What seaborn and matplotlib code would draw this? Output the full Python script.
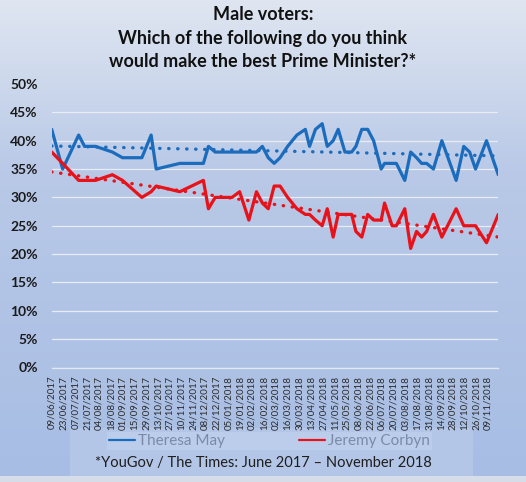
import numpy as np
import pandas as pd
import matplotlib
matplotlib.use("Agg")
import matplotlib.pyplot as plt
import matplotlib.dates as mdates
from matplotlib.colors import LinearSegmentedColormap
from matplotlib.lines import Line2D
from matplotlib.patches import Rectangle
import seaborn as sns

# poll dates (YouGov / The Times), men only
poll_dates = ["2017-06-09", "2017-06-22", "2017-07-11", "2017-07-18", "2017-07-31", "2017-08-20",
              "2017-09-01", "2017-09-24", "2017-10-05", "2017-10-11", "2017-11-08", "2017-12-06",
              "2017-12-12", "2017-12-20", "2018-01-09", "2018-01-18", "2018-01-29", "2018-02-07",
              "2018-02-14", "2018-02-21", "2018-02-28", "2018-03-07", "2018-03-16", "2018-03-27",
              "2018-04-06", "2018-04-11", "2018-04-18", "2018-04-26", "2018-05-02", "2018-05-09",
              "2018-05-15", "2018-05-23", "2018-05-31", "2018-06-05", "2018-06-12", "2018-06-19",
              "2018-06-26", "2018-07-05", "2018-07-09", "2018-07-18", "2018-07-23", "2018-08-02",
              "2018-08-09", "2018-08-16", "2018-08-22", "2018-08-28", "2018-09-05", "2018-09-15",
              "2018-10-02", "2018-10-11", "2018-10-18", "2018-10-25", "2018-11-07", "2018-11-21"]
may = [42, 35, 41, 39, 39, 38, 37, 37, 41, 35, 36, 36, 39, 38, 38, 38, 38, 38, 39, 37,
       36, 37, 39, 41, 42, 39, 42, 43, 39, 40, 42, 38, 38, 39, 42, 42, 40, 35, 36, 36,
       36, 33, 38, 37, 36, 36, 35, 40, 33, 39, 38, 35, 40, 34]
corbyn = [38, 36, 33, 33, 33, 34, 33, 30, 31, 32, 31, 33, 28, 30, 30, 31, 26, 31, 29, 28,
          32, 32, 30, 28, 27, 27, 26, 25, 28, 23, 27, 27, 27, 24, 23, 27, 26, 26, 29, 25,
          25, 28, 21, 24, 23, 24, 27, 23, 28, 25, 25, 25, 22, 27]
leaders = ["Theresa May", "Jeremy Corbyn"]
title = "Male voters:\nWhich of the following do you think\nwould make the best Prime Minister?*"
source = "*YouGov / The Times: June 2017 \u2013 November 2018"

BLUE = "#1c6cbd"
RED = "#e8121a"
colors = {"Theresa May": BLUE, "Jeremy Corbyn": RED}

sns.set_theme(style="white")
plt.rcParams["font.family"] = ["Lato", "DejaVu Sans"]

df = pd.DataFrame({"date": pd.to_datetime(poll_dates), "Theresa May": may, "Jeremy Corbyn": corbyn})
long = df.melt(id_vars="date", var_name="leader", value_name="share")

W, H = 526, 482
fig = plt.figure(figsize=(W / 100, H / 100), dpi=100)

# gradient background
bg = fig.add_axes([0, 0, 1, 1], zorder=0)
cmap = LinearSegmentedColormap.from_list("bg", [(0, "#dfe6f1"), (0.35, "#b9c9e7"), (1, "#a7bde4")])
bg.imshow(np.linspace(0, 1, 256).reshape(-1, 1), aspect="auto", cmap=cmap, extent=[0, 1, 0, 1])
bg.axis("off")
fig.patches.append(Rectangle((70 / W, 6 / H), 403 / W, 48 / H, transform=fig.transFigure,
                             facecolor="#b4c6e7", edgecolor="none", zorder=0.5))
fig.patches.append(Rectangle((0, 0), 1, 6 / H, transform=fig.transFigure,
                             facecolor="#d6dde8", edgecolor="none", zorder=0.6))

ax = fig.add_axes([51.7 / W, 1 - 367.5 / H, 446.6 / W, (367.5 - 84) / H], zorder=1)
ax.patch.set_alpha(0)

sns.lineplot(data=long, x="date", y="share", hue="leader", palette=colors, lw=2.3,
             ax=ax, legend=False, zorder=3)

# linear trendlines
xnum = mdates.date2num(df["date"])
for name in leaders:
    sns.regplot(x=xnum, y=df[name].values, scatter=False, ci=None, ax=ax, color=colors[name],
                line_kws=dict(ls=(0, (0.1, 2.6)), lw=2.4, dash_capstyle="round", zorder=2))

ax.set_ylim(0, 50)
ax.set_yticks(range(0, 51, 5))
ax.set_yticklabels([f"{v}%" for v in range(0, 51, 5)], fontsize=10, fontweight="bold", color="#1a1a1a")
ax.set_xlim(df["date"].iloc[0], df["date"].iloc[-1])
ax.set_xticks(pd.date_range("2017-06-09", "2018-11-09", freq="14D"))
ax.xaxis.set_major_formatter(mdates.DateFormatter("%d/%m/%Y"))
ax.tick_params(axis="x", rotation=90, labelsize=7, labelcolor="#2b2b2b", direction="out",
               length=4, width=0.8, color="#e4eaf3", pad=2)
ax.tick_params(axis="y", length=0, pad=10)
ax.set_xlabel("")
ax.set_ylabel("")

ax.yaxis.grid(True, color="#e8edf5", lw=0.9)
ax.get_ygridlines()[-1].set_visible(False)
ax.set_axisbelow(True)
for side in ["top", "right", "left"]:
    ax.spines[side].set_visible(False)
ax.spines["bottom"].set_color("#e4eaf3")
ax.spines["bottom"].set_linewidth(0.9)

fig.text(0.5, 1 - 6 / H, title, ha="center", va="top", fontsize=13, fontweight="bold",
         color="#111111", linespacing=1.48)

handles = [Line2D([], [], color=colors[n], lw=1.6) for n in leaders]
leg = fig.legend(handles, leaders, loc="center", bbox_to_anchor=(269.5 / W, 1 - 441 / H), ncol=2,
                 frameon=True, facecolor="#bccdeb", edgecolor="none", framealpha=1, fontsize=11,
                 labelcolor="#7b8aa6", handlelength=1.7, handletextpad=0.15, columnspacing=4.9,
                 borderpad=0.15, fancybox=False)

fig.text(0.5, 1 - 463 / H, source, ha="center", va="center", fontsize=10.5, color="#1e1e1e")

fig.savefig("out.png", dpi=100)
